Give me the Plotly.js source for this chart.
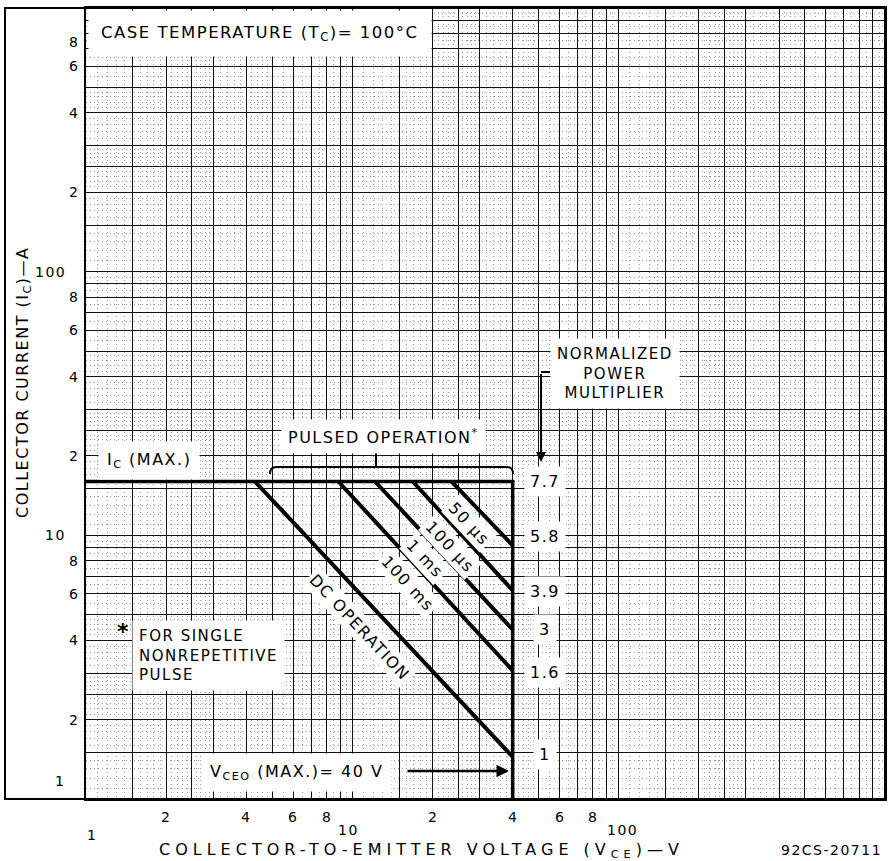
<!DOCTYPE html>
<html><head><meta charset="utf-8">
<script src="https://cdn.plot.ly/plotly-3.0.1.min.js"></script>
<style>
html,body{margin:0;padding:0;background:#fff}
#chart{width:888px;height:861px}
.annotation-text{letter-spacing:1.5px}
g.annotation[data-index="0"] .annotation-text{letter-spacing:5px}
</style></head><body><div id="chart"></div>
<script>
// ---- data ----
const vceoMax = 40;   // V
const icMax = 16;     // A
const curveNames  = ['DC OPERATION', '100 ms', '1 ms', '100 µs', '50 µs'];
const curveStartV = [4.31, 8.86, 12.17, 16.86, 23.6];  // V where each limit leaves Ic(max)
const curveEndI   = [1.445, 3.07, 4.39, 6.18, 9.15];   // A where each limit meets Vceo(max)
const multiplierText = ['7.7', '5.8', '3.9', '3', '1.6', '1'];
const multiplierI    = [16, 9.9, 6.1, 4.39, 3.01, 1.47];
const xTickVals = [1, 2, 4, 6, 8, 10, 20, 40, 60, 80, 100];
const xTickText = ['1', '2', '4', '6', '8', '10', '2', '4', '6', '8', '100'];
const yTickVals = [1, 2, 4, 6, 8, 10, 20, 40, 60, 80, 100, 200, 400, 600, 800];
const yTickText = ['1', '2', '4', '6', '8', '10', '2', '4', '6', '8', '100', '2', '4', '6', '8'];
const gridMajor = [1, 1.5, 2, 2.5, 3, 4, 5, 6, 7, 8, 9];
const gridMinor = [1.1, 1.2, 1.3, 1.4, 1.6, 1.7, 1.8, 1.9, 2.1, 2.2, 2.3, 2.4, 2.6, 2.7, 2.8, 2.9,
                   3.2, 3.4, 3.6, 3.8, 4.2, 4.4, 4.6, 4.8, 5.5, 6.5, 7.5, 8.5, 9.5];
const decades = [1, 10, 100];

// ---- layout helpers ----
const L = 86, R = 885, T = 8, B = 799;
const px = v => (v - L) / (R - L);
const py = v => (B - v) / (B - T);
const FONT = 'DejaVu Sans, Liberation Sans, sans-serif';
const BLK = '#000';

const majorVals = [];
const minorVals = [];
decades.forEach(d => {
  gridMajor.forEach(m => majorVals.push(+(m * d).toPrecision(6)));
  gridMinor.forEach(m => minorVals.push(+(m * d).toPrecision(6)));
});
majorVals.push(1000);

// ---- traces ----
const traces = [];
traces.push({
  x: [1, vceoMax, vceoMax], y: [icMax, icMax, 1],
  mode: 'lines', line: {color: BLK, width: 3.5}, hoverinfo: 'skip', showlegend: false
});
curveNames.forEach((n, i) => {
  traces.push({
    x: [curveStartV[i], vceoMax], y: [icMax, curveEndI[i]], name: n,
    mode: 'lines', line: {color: BLK, width: 4}, hoverinfo: 'skip', showlegend: false
  });
});

// ---- annotations ----
const ann = [];
const note = (o) => ann.push(Object.assign({xanchor: 'center', yanchor: 'middle', showarrow: false}, o));
// 0: x title (letter-spaced via CSS)
note({xref: 'paper', yref: 'paper', x: px(157), y: py(850), xanchor: 'left', align: 'left',
  text: 'COLLECTOR-TO-EMITTER VOLTAGE (V<sub>CE</sub>)—V', font: {family: FONT, size: 16, color: BLK}});
// 1: y title
note({xref: 'paper', yref: 'paper', x: px(23), y: py(383), textangle: -90,
  text: 'COLLECTOR CURRENT (I<sub>C</sub>)—A', font: {family: FONT, size: 16, color: BLK}});
// 2: drawing number
note({xref: 'paper', yref: 'paper', x: px(884), y: py(850), xanchor: 'right',
  text: '92CS-20711', font: {family: FONT, size: 14, color: BLK}});

// tick labels
xTickVals.forEach((v, i) => {
  const dec = Number.isInteger(Math.log10(v));
  let ypix = dec ? 830 : 817, xs = 0;
  if (v === 1) { ypix = 835; xs = 6; }
  else if (v === 10) xs = -4;
  else if (v === 100) xs = 4;
  note({xref: 'x', yref: 'paper', x: Math.log10(v), y: py(ypix), xshift: xs,
    text: xTickText[i], font: {family: FONT, size: 14, color: BLK}});
});
yTickVals.forEach((v, i) => {
  const dec = Number.isInteger(Math.log10(v));
  const a = {xref: 'paper', yref: 'y', x: px(dec ? 68 : 81), y: Math.log10(v), xanchor: 'right',
    text: yTickText[i], font: {family: FONT, size: 14, color: BLK}};
  if (v === 1) { a.x = px(60); a.xanchor = 'center'; a.yshift = 18; }
  if (v === 800) a.yshift = -8;
  note(a);
});

// boxed notes
note({xref: 'paper', yref: 'paper', x: px(88), y: py(33), xanchor: 'left', bgcolor: '#fff', borderpad: 12,
  text: 'CASE TEMPERATURE (T<sub>C</sub>)= 100°C', font: {family: FONT, size: 16.5, color: BLK}});
note({xref: 'paper', yref: 'paper', x: px(98), y: py(460), xanchor: 'left', bgcolor: '#fff', borderpad: 8,
  text: 'I<sub>C</sub> (MAX.)', font: {family: FONT, size: 16, color: BLK}});
note({xref: 'paper', yref: 'paper', x: px(383), y: py(436), bgcolor: '#fff', borderpad: 6,
  text: 'PULSED OPERATION<sup>*</sup>', font: {family: FONT, size: 16, color: BLK}});
note({xref: 'paper', yref: 'paper', x: px(296), y: py(772), bgcolor: '#fff', borderpad: 8,
  text: 'V<sub>CEO</sub> (MAX.)= 40 V', font: {family: FONT, size: 16, color: BLK}});
note({xref: 'paper', yref: 'paper', x: px(615), y: py(373), bgcolor: '#fff', borderpad: 6,
  text: 'NORMALIZED<br>POWER<br>MULTIPLIER', align: 'center', font: {family: FONT, size: 15, color: BLK}});
note({xref: 'paper', yref: 'paper', x: px(123), y: py(631),
  text: '<b>*</b>', font: {family: FONT, size: 22, color: BLK}});
note({xref: 'paper', yref: 'paper', x: px(132), y: py(655), xanchor: 'left', align: 'left',
  bgcolor: '#fff', borderpad: 6,
  text: 'FOR SINGLE<br>NONREPETITIVE<br>PULSE', font: {family: FONT, size: 15, color: BLK}});
// arrows (tiny invisible text at the tail)
note({xref: 'paper', yref: 'paper', x: px(509), y: py(771), ax: -104, ay: 0, text: ' ',
  font: {size: 1}, showarrow: true, arrowhead: 2, arrowsize: 1, arrowwidth: 2.5, arrowcolor: BLK});
note({xref: 'paper', yref: 'paper', x: px(541), y: py(462), ax: 0, ay: -90, text: ' ',
  font: {size: 1}, showarrow: true, arrowhead: 2, arrowsize: 1, arrowwidth: 2, arrowcolor: BLK});

// multiplier values
multiplierText.forEach((t, i) => {
  note({xref: 'x', yref: 'y', x: Math.log10(53), y: Math.log10(multiplierI[i]),
    bgcolor: '#fff', borderpad: 5, text: t, font: {family: FONT, size: 16, color: BLK}});
});
// curve labels along the lines
const labelPix = [[360, 627], [408, 583], [425, 558], [450, 546], [469, 523]];
curveNames.forEach((n, i) => {
  note({xref: 'paper', yref: 'paper', x: px(labelPix[i][0]), y: py(labelPix[i][1]), textangle: 47,
    bgcolor: '#fff', borderpad: 2, text: n, font: {family: FONT, size: 16, color: BLK}});
});

// ---- shapes ----
const P = (x, y) => px(x).toFixed(5) + ',' + py(y).toFixed(5);
const shapes = [
  {type: 'rect', xref: 'paper', yref: 'paper', x0: px(5), x1: 1, y0: 0, y1: 1,
   line: {color: BLK, width: 2}, layer: 'above'},
  {type: 'path', xref: 'paper', yref: 'paper', layer: 'above', line: {color: BLK, width: 2},
   path: 'M' + P(270, 474) + ' Q' + P(270, 467) + ' ' + P(276, 467) + ' L' + P(507, 467) +
         ' Q' + P(513, 467) + ' ' + P(513, 474)},
  {type: 'path', xref: 'paper', yref: 'paper', layer: 'above', line: {color: BLK, width: 2},
   path: 'M' + P(376, 467) + ' L' + P(376, 453)},
  {type: 'path', xref: 'paper', yref: 'paper', layer: 'above', line: {color: BLK, width: 2},
   path: 'M' + P(541, 372) + ' L' + P(550, 372)}
];

const axisCommon = {
  type: 'log', range: [0, 3], tickmode: 'array', tickvals: majorVals,
  showticklabels: false, ticks: '', showgrid: true, gridcolor: '#111', gridwidth: 1,
  showline: true, mirror: true, linecolor: BLK, linewidth: 2, zeroline: false, fixedrange: true,
  minor: {tickmode: 'array', tickvals: minorVals, showgrid: true, gridcolor: '#999',
          gridwidth: 1, griddash: '1px,3px', ticks: ''}
};

const layout = {
  width: 888, height: 861,
  margin: {l: L, r: 888 - R, t: T, b: 861 - B},
  paper_bgcolor: '#fff', plot_bgcolor: '#fff',
  showlegend: false,
  xaxis: Object.assign({}, axisCommon),
  yaxis: Object.assign({}, axisCommon),
  annotations: ann, shapes: shapes,
  font: {family: FONT, color: BLK}
};

Plotly.newPlot('chart', traces, layout, {staticPlot: true, displayModeBar: false});
</script></body></html>
